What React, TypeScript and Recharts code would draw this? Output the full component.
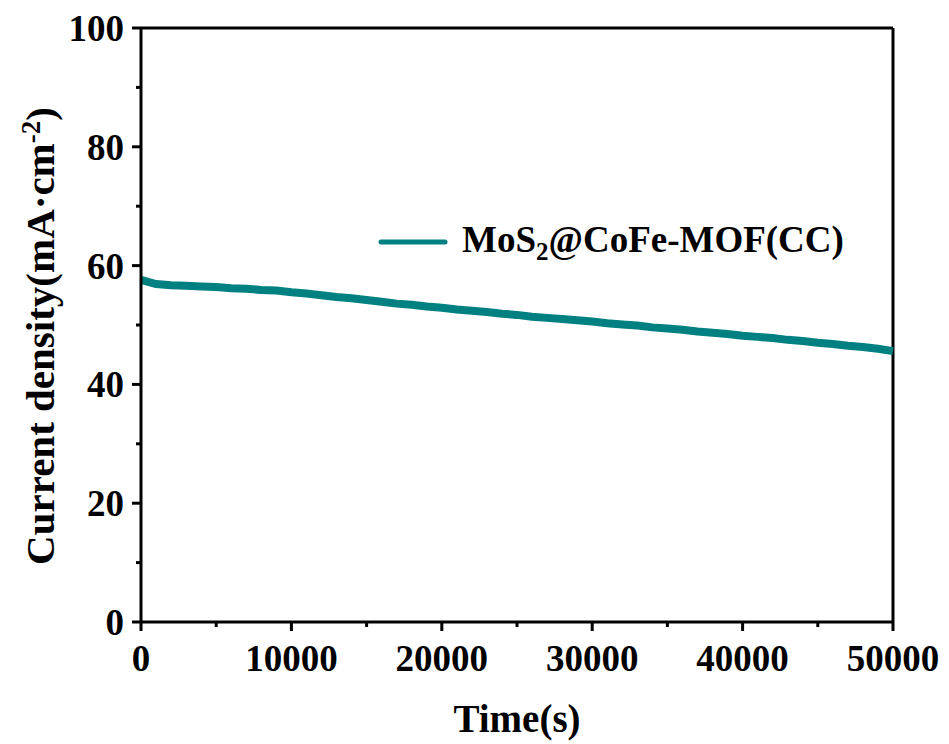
import { LineChart, Line, XAxis, YAxis, ReferenceLine, Legend } from 'recharts';

const timeSeconds = [
  0, 1000, 2000, 3000, 4000, 5000, 6000, 7000, 8000, 9000,
  10000, 11000, 12000, 13000, 14000, 15000, 16000, 17000, 18000, 19000,
  20000, 21000, 22000, 23000, 24000, 25000, 26000, 27000, 28000, 29000,
  30000, 31000, 32000, 33000, 34000, 35000, 36000, 37000, 38000, 39000,
  40000, 41000, 42000, 43000, 44000, 45000, 46000, 47000, 48000, 49000, 50000,
];

const currentDensity = [
  57.6, 56.9, 56.7, 56.6, 56.5, 56.4, 56.2, 56.1, 55.9, 55.8,
  55.5, 55.3, 55.0, 54.7, 54.5, 54.2, 53.9, 53.6, 53.4, 53.1,
  52.9, 52.6, 52.4, 52.2, 51.9, 51.7, 51.4, 51.2, 51.0, 50.8,
  50.6, 50.3, 50.1, 49.9, 49.6, 49.4, 49.2, 48.9, 48.7, 48.5,
  48.2, 48.0, 47.8, 47.5, 47.3, 47.0, 46.8, 46.5, 46.3, 46.0, 45.6,
];

const xTicks = [0, 5000, 10000, 15000, 20000, 25000, 30000, 35000, 40000, 45000, 50000];
const yTicks = [0, 10, 20, 30, 40, 50, 60, 70, 80, 90, 100];

const seriesName = 'MoS2@CoFe-MOF(CC)';
const lineColor = '#008080';
const font = '"Liberation Serif", "Times New Roman", serif';

const data = timeSeconds.map((t, i) => ({ t, j: currentDensity[i] }));

function XTick(props: any) {
  const { x, y, payload } = props;
  const major = payload.value % 10000 === 0;
  return (
    <g>
      <line x1={x} y1={y} x2={x} y2={y + (major ? 9 : 5)} stroke="#000" strokeWidth={3} />
      {major && (
        <text x={x} y={y + 49} textAnchor="middle" fontFamily={font} fontWeight="bold" fontSize={37} fill="#000">
          {payload.value}
        </text>
      )}
    </g>
  );
}

function YTick(props: any) {
  const { x, y, payload } = props;
  const major = payload.value % 20 === 0;
  return (
    <g>
      <line x1={x} y1={y} x2={x - (major ? 9 : 5)} y2={y} stroke="#000" strokeWidth={3} />
      {major && (
        <text x={x - 17} y={y + 13} textAnchor="end" fontFamily={font} fontWeight="bold" fontSize={37} fill="#000">
          {payload.value}
        </text>
      )}
    </g>
  );
}

function LegendBox() {
  return (
    <div style={{ display: 'flex', alignItems: 'center', fontFamily: font, fontWeight: 'bold', fontSize: 37 }}>
      <svg width={70} height={10} style={{ marginRight: 14 }}>
        <line x1={3} y1={5} x2={67} y2={5} stroke={lineColor} strokeWidth={5} strokeLinecap="round" />
      </svg>
      <span>
        MoS<sub style={{ fontSize: 25 }}>2</sub>@CoFe-MOF(CC)
      </span>
    </div>
  );
}

export default function App() {
  return (
    <div style={{ position: 'absolute', left: 0, top: 0, width: 949, height: 744, background: '#fff' }}>
      <LineChart width={949} height={744} data={data} margin={{ top: 28, right: 56, bottom: 0, left: 61 }}>
        <XAxis
          dataKey="t"
          type="number"
          domain={[0, 50000]}
          ticks={xTicks}
          interval={0}
          tick={<XTick />}
          tickLine={false}
          tickSize={0}
          tickMargin={0}
          height={122}
          axisLine={{ stroke: '#000', strokeWidth: 3 }}
          label={{ value: 'Time(s)', position: 'insideBottom', offset: 12, style: { fontFamily: font, fontWeight: 'bold', fontSize: 39, fill: '#000' } }}
        />
        <YAxis
          type="number"
          domain={[0, 100]}
          ticks={yTicks}
          interval={0}
          tick={<YTick />}
          tickLine={false}
          tickSize={0}
          tickMargin={0}
          width={80}
          axisLine={{ stroke: '#000', strokeWidth: 3 }}
        />
        <ReferenceLine y={100} stroke="#000" strokeWidth={3} />
        <ReferenceLine x={50000} stroke="#000" strokeWidth={3} />
        <Legend
          layout="horizontal"
          verticalAlign="middle"
          align="center"
          content={<LegendBox />}
          wrapperStyle={{ position: 'absolute', left: 378, top: 218, width: 520 }}
        />
        <Line
          type="linear"
          dataKey="j"
          name={seriesName}
          stroke={lineColor}
          strokeWidth={8}
          dot={false}
          isAnimationActive={false}
        />
      </LineChart>
      <div
        style={{
          position: 'absolute',
          left: 40,
          top: 336,
          transform: 'translate(-50%, -50%) rotate(-90deg)',
          whiteSpace: 'nowrap',
          fontFamily: font,
          fontWeight: 'bold',
          fontSize: 41,
        }}
      >
        Current density(mA·cm<sup style={{ fontSize: 27 }}>-2</sup>)
      </div>
    </div>
  );
}
